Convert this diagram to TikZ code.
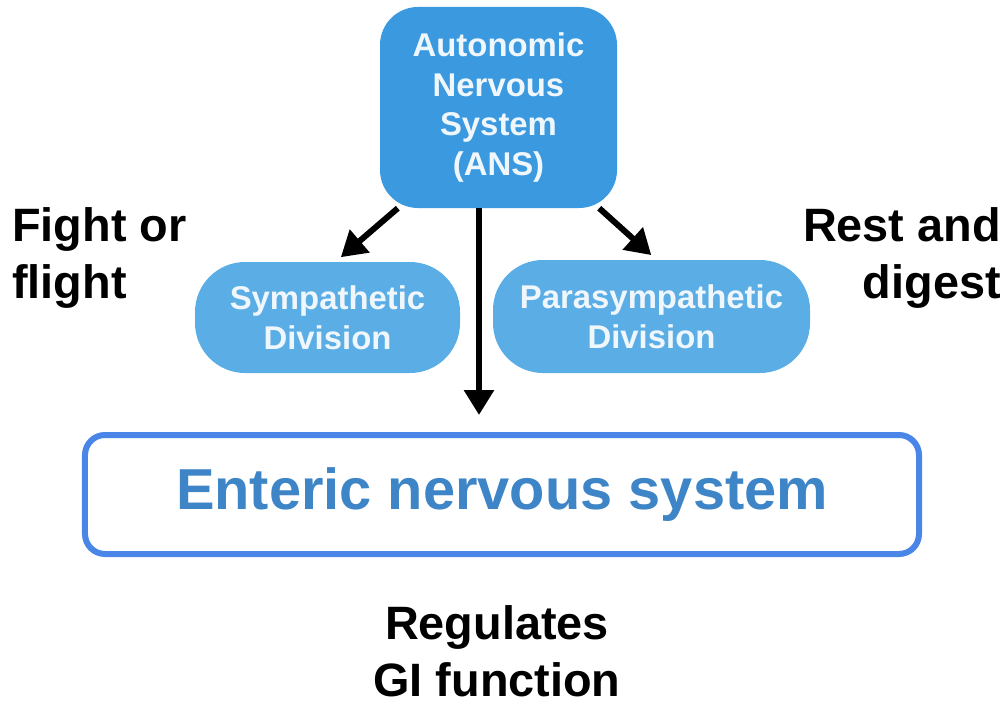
\documentclass[tikz,border=0pt]{standalone}
\usepackage{fontspec}
\setsansfont{Liberation Sans}
\usepackage{tikz}
\usetikzlibrary{arrows.meta}

\definecolor{ansblue}{HTML}{3A99DF}
\definecolor{divblue}{HTML}{5AADE5}
\definecolor{ensline}{HTML}{4A86E8}
\definecolor{enstext}{HTML}{3D85C6}
\definecolor{boxtext}{HTML}{F0F7FC}

\begin{document}
\begin{tikzpicture}[x=1bp,y=-1bp,
  every node/.style={font=\sffamily\bfseries, inner sep=0pt, align=center},
  ansbox/.style={fill=ansblue, text=boxtext, rounded corners=38bp,
    minimum width=237bp, minimum height=201bp, font=\sffamily\bfseries\fontsize{33}{40}\selectfont},
  divbox/.style={fill=divblue, text=boxtext, rounded corners=50bp,
    font=\sffamily\bfseries\fontsize{33}{40}\selectfont},
  ensbox/.style={draw=ensline, line width=6bp, fill=white, rounded corners=20bp,
    minimum width=834bp, minimum height=119bp, text=enstext,
    font=\sffamily\bfseries\fontsize{58}{70}\selectfont},
  sidelbl/.style={font=\sffamily\bfseries\fontsize{47}{57}\selectfont},
  arr/.style={line width=6bp, -{Triangle[width=29bp,length=25bp]}}]
\useasboundingbox (0,0) rectangle (1007,704);
\node[ansbox] (ans) at (498.5,107.5) {Autonomic\\Nervous\\System\\(ANS)};
\node[divbox, minimum width=265bp, minimum height=111bp] (symp) at (327.5,317.5) {Sympathetic\\Division};
\node[divbox, minimum width=317bp, minimum height=113bp] (para) at (651.5,316.5) {Parasympathetic\\Division};
\node[ensbox] (ens) at (502,494.5) {Enteric nervous system};
\node[sidelbl, anchor=west, align=left] (fight) at (12,258) {Fight or\\flight};
\node[sidelbl, anchor=east, align=right] (rest) at (1001,258) {Rest and\\digest};
\node[sidelbl] (gi) at (497,651) {Regulates\\GI function};
\coordinate (down) at ([xshift=-19.5bp]ans.south);
\draw[arr, shorten >=7bp] (ans.225) -- ([xshift=8bp]symp.north);
\draw[arr, shorten >=7bp] (ans.-45) -- ([xshift=5bp]para.north);
\draw[arr, shorten >=17bp] (down) -- (down |- ens.north);
\end{tikzpicture}
\end{document}
